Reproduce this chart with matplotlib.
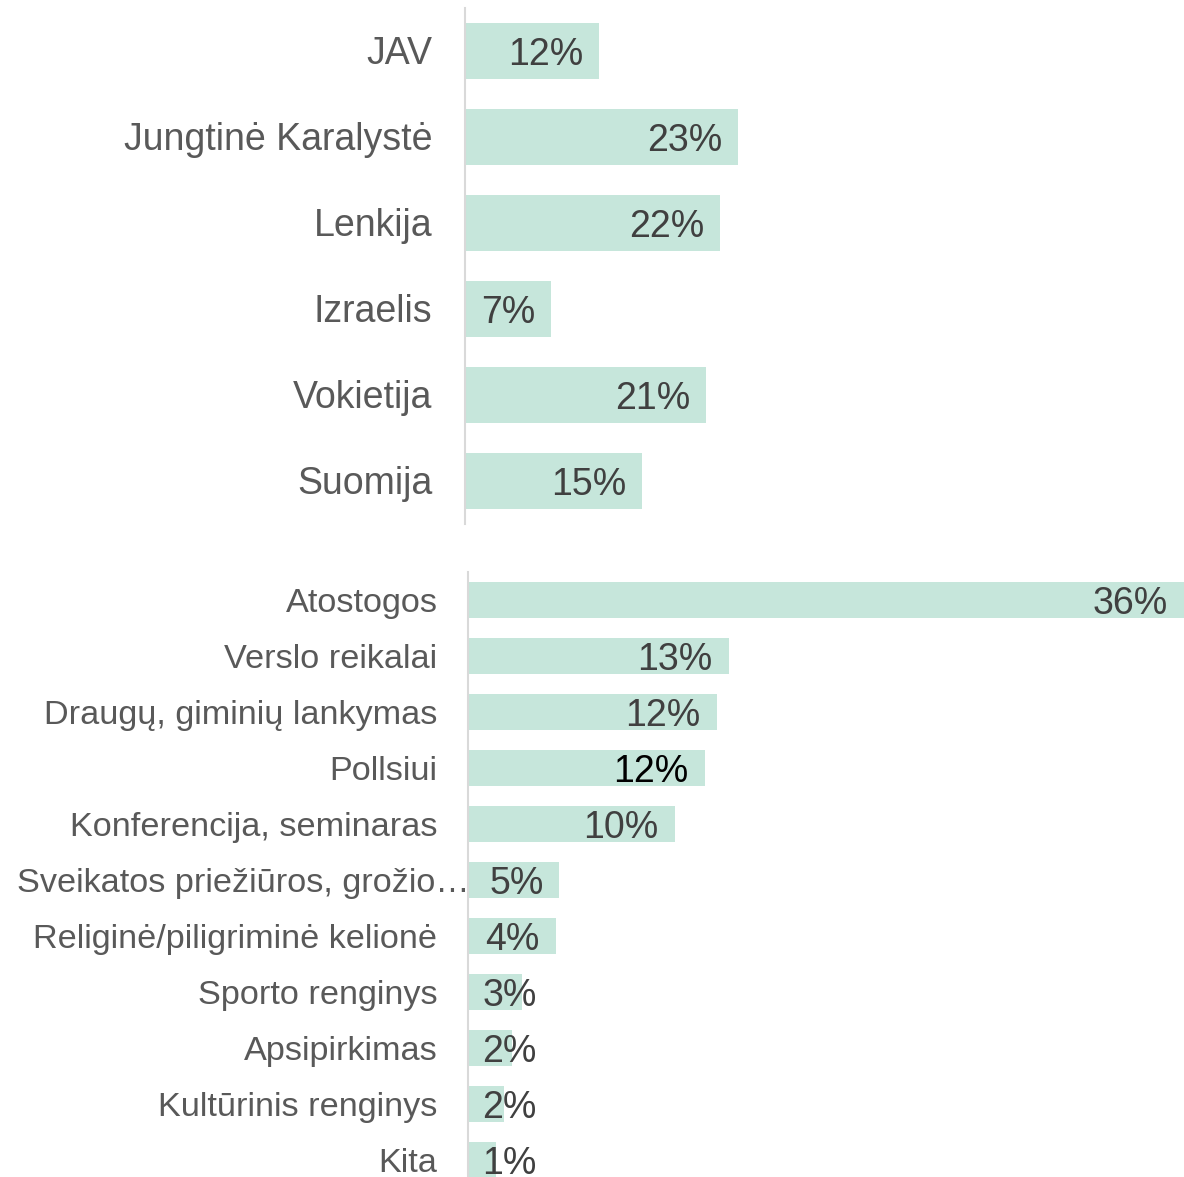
import matplotlib.pyplot as plt
from matplotlib import transforms

plt.rcParams['font.family'] = ['Liberation Sans', 'DejaVu Sans']

# top panel: countries
countries = ["JAV", "Jungtinė Karalystė", "Lenkija", "Izraelis", "Vokietija", "Suomija"]
country_vals = [11.5, 23.4, 21.85, 7.4, 20.65, 15.2]
country_labels = ["12%", "23%", "22%", "7%", "21%", "15%"]

# bottom panel: purpose of trip
purposes = ["Atostogos", "Verslo reikalai", "Draugų, giminių lankymas", "Pollsiui",
            "Konferencija, seminaras", "Sveikatos priežiūros, grožio…",
            "Religinė/piligriminė kelionė", "Sporto renginys", "Apsipirkimas",
            "Kultūrinis renginys", "Kita"]
purpose_vals = [36.0, 13.1, 12.5, 11.9, 10.4, 4.6, 4.4, 2.7, 2.2, 1.8, 1.4]
purpose_labels = ["36%", "13%", "12%", "12%", "10%", "5%", "4%", "3%", "2%", "2%", "1%"]

BAR = "#c6e6db"
LBL = "#595959"
VAL = "#404040"

W, H = 1184, 1177
fig = plt.figure(figsize=(W / 100, H / 100), dpi=100)


def panel(rect, cats, vals, labels, xmax, cat_size, val_size, cat_pad, min_x, val_colors=None):
    ax = fig.add_axes(rect)
    y = list(range(len(cats)))
    ax.barh(y, vals, height=0.66, color=BAR, zorder=2)
    ax.set_xlim(0, xmax)
    ax.set_ylim(len(cats) - 0.5, -0.5)
    for s in ["top", "right", "bottom"]:
        ax.spines[s].set_visible(False)
    ax.spines["left"].set_color("#d9d9d9")
    ax.spines["left"].set_linewidth(1.5)
    ax.spines["left"].set_zorder(3)
    ax.set_xticks([])
    ax.set_yticks([])
    lab_tr = transforms.blended_transform_factory(ax.transAxes, ax.transData)
    for i, c in enumerate(cats):
        off = cat_pad
        if c.endswith("…"):
            off = -1
        ax.annotate(c, (0, i), xycoords=lab_tr, xytext=(-off, -2.5), textcoords="offset points",
                    ha="right", va="center", fontsize=cat_size, color=LBL)
    for i, (v, t) in enumerate(zip(vals, labels)):
        col = val_colors[i] if val_colors else VAL
        ax.annotate(t, (max(v, min_x), i), xytext=(-11.5, -3), textcoords="offset points",
                    ha="right", va="center", fontsize=val_size, color=col, zorder=4)
    return ax


panel([465 / W, 1 - 524 / H, (W - 465) / W, 516 / H], countries, country_vals,
      country_labels, 719 / 11.67, 27, 27, 23.5, 0)

colors = [VAL] * len(purposes)
colors[3] = "#000000"
panel([468 / W, 1 - 1188 / H, (W - 468) / W, 616 / H], purposes, purpose_vals,
      purpose_labels, 36.0, 24.7, 27, 22, 4.27, colors)

fig.savefig("out.png", dpi=100)
